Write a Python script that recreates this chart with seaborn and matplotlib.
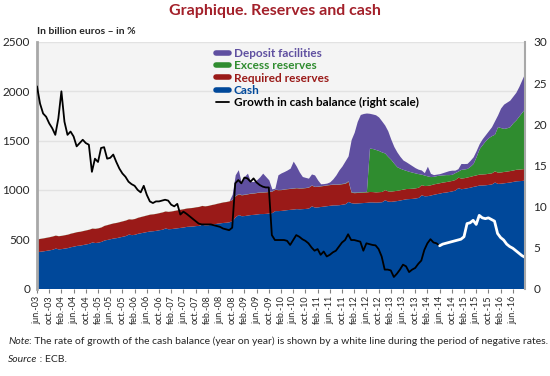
import numpy as np
import pandas as pd
import seaborn as sns
import matplotlib
matplotlib.use('Agg')
import matplotlib.pyplot as plt
from matplotlib.lines import Line2D

# Monthly data, jun-03 .. oct-16 (billion euros / %)
cash = [373, 378, 382, 387, 392, 398, 410,
        402, 405, 410, 415, 424, 430, 437, 440, 446, 452, 458, 472,
        466, 470, 478, 492, 498, 505, 512, 516, 523, 530, 537, 552,
        546, 550, 560, 566, 572, 578, 584, 586, 590, 596, 601, 614,
        606, 608, 612, 616, 620, 624, 630, 632, 634, 638, 640, 652,
        644, 646, 652, 656, 662, 666, 670, 672, 677, 690, 728, 750,
        738, 740, 745, 750, 752, 756, 760, 760, 762, 766, 770, 790,
        790, 792, 796, 800, 803, 806, 810, 808, 810, 812, 816, 838,
        826, 828, 832, 836, 840, 844, 848, 848, 850, 855, 860, 883,
        870, 866, 868, 870, 872, 874, 878, 878, 876, 878, 880, 900,
        886, 884, 888, 892, 898, 904, 910, 912, 914, 918, 924, 950,
        940, 942, 948, 956, 962, 968, 975, 978, 984, 990, 998, 1022,
        1012, 1016, 1022, 1028, 1036, 1042, 1050, 1050, 1052, 1056, 1060, 1080,
        1066, 1068, 1072, 1076, 1080, 1086, 1092, 1094, 1096, 1100]

required = [129, 130, 131, 132, 133, 134, 131,
            133, 134, 135, 136, 137, 138, 139, 140, 141, 142, 143, 140,
            144, 145, 146, 148, 150, 152, 153, 154, 155, 156, 157, 154,
            158, 160, 162, 164, 166, 168, 170, 171, 172, 173, 175, 172,
            176, 178, 180, 182, 184, 185, 186, 187, 188, 190, 192, 190,
            194, 196, 198, 200, 202, 205, 208, 210, 212, 214, 212, 210,
            212, 214, 215, 216, 216, 217, 218, 218, 218, 218, 218, 216,
            212, 211, 212, 212, 212, 212, 212, 211, 210, 211, 212, 210,
            208, 208, 209, 209, 210, 210, 210, 209, 208, 208, 207, 205,
            105, 106, 106, 106, 106, 106, 106, 105, 104, 104, 104, 103,
            104, 104, 104, 104, 104, 104, 104, 103, 103, 103, 103, 103,
            104, 104, 104, 105, 105, 105, 105, 106, 106, 106, 107, 107,
            108, 108, 109, 110, 110, 111, 111, 112, 112, 113, 113, 113,
            114, 114, 115, 115, 116, 116, 117, 117, 118, 118]

excess = [1, 1, 1, 1, 1, 1, 1,
          1, 1, 1, 1, 1, 1, 1, 1, 1, 1, 1, 1,
          1, 1, 1, 1, 1, 1, 1, 1, 1, 1, 1, 1,
          1, 1, 1, 1, 1, 1, 1, 1, 1, 1, 1, 1,
          1, 1, 1, 1, 1, 1, 1, 1, 1, 1, 1, 1,
          1, 1, 1, 1, 1, 1, 1, 1, 1, 2, 3, 3,
          3, 3, 2, 2, 2, 2, 2, 2, 2, 2, 2, 2,
          2, 2, 2, 2, 2, 2, 2, 2, 2, 2, 2, 2,
          2, 2, 2, 2, 2, 2, 2, 2, 3, 3, 4, 5,
          5, 5, 5, 5, 5, 5, 440, 437, 430, 418, 401, 372,
          350, 322, 278, 239, 218, 200, 184, 173, 163, 151, 138, 107,
          106, 96, 83, 77, 78, 77, 72, 71, 65, 62, 70, 61,
          88, 88, 87, 102, 123, 187, 259, 298, 336, 361, 377, 372,
          461, 450, 437, 439, 445, 478, 501, 539, 576, 609]

deposit = [0, 0, 0, 0, 0, 0, 0,
           0, 0, 0, 0, 0, 0, 0, 0, 0, 0, 0, 0,
           0, 0, 0, 0, 0, 0, 0, 0, 0, 0, 0, 0,
           0, 0, 0, 0, 0, 0, 0, 0, 0, 0, 0, 0,
           0, 0, 0, 0, 0, 0, 0, 0, 0, 0, 0, 0,
           0, 0, 0, 0, 0, 0, 0, 0, 0, 50, 211, 242,
           117, 180, 208, 117, 115, 127, 152, 190, 154, 116, 20, 10,
           149, 167, 176, 188, 204, 272, 218, 161, 114, 102, 89, 112,
           116, 64, 19, 17, 17, 26, 52, 93, 142, 177, 223, 252,
           531, 608, 716, 784, 792, 795, 353, 350, 352, 340, 315, 283,
           260, 205, 170, 150, 120, 95, 87, 77, 65, 53, 45, 42,
           25, 98, 33, 17, 15, 15, 23, 30, 40, 42, 25, 25,
           60, 55, 51, 60, 67, 60, 50, 60, 60, 70, 90, 135,
           119, 198, 246, 260, 269, 270, 280, 300, 330, 363]

growth = [24.6, 22.5, 21.3, 20.9, 20.1, 19.5, 18.7,
          20.7, 24.0, 20.3, 18.7, 19.1, 18.5, 17.3, 17.7, 18.1, 17.7, 17.5, 14.2,
          15.8, 15.4, 17.1, 17.2, 15.8, 15.9, 16.3, 15.4, 14.6, 14.0, 13.6, 13.0,
          12.7, 12.5, 12.0, 11.7, 12.5, 11.4, 10.6, 10.4, 10.6, 10.6, 10.7, 10.8,
          10.7, 10.2, 10.0, 10.3, 9.0, 9.35, 9.1, 8.8, 8.5, 8.2, 7.9, 7.8,
          7.8, 7.8, 7.8, 7.7, 7.6, 7.5, 7.3, 7.2, 7.1, 7.4, 12.8, 13.2,
          12.8, 13.5, 13.4, 13.0, 13.4, 12.9, 12.6, 12.4, 12.3, 12.3, 6.5, 5.9,
          5.9, 5.9, 5.9, 5.8, 5.3, 5.9, 6.5, 6.3, 6.0, 5.8, 5.5, 5.0,
          4.6, 4.8, 4.1, 4.5, 3.9, 4.1, 4.4, 4.6, 5.1, 5.6, 5.9, 6.6,
          5.9, 5.9, 5.8, 5.7, 4.6, 5.5, 5.4, 5.3, 5.25, 4.8, 3.9, 2.3,
          2.3, 2.2, 1.4, 1.8, 2.3, 2.9, 2.7, 2.0, 2.3, 2.5, 3.0, 3.4,
          4.7, 5.5, 6.0, 5.6, 5.5, 5.2, 5.4, 5.5, 5.6, 5.7, 5.8, 5.9,
          6.0, 6.3, 7.9, 8.0, 8.3, 7.8, 8.9, 8.6, 8.5, 8.6, 8.4, 8.2,
          6.7, 6.2, 5.9, 5.4, 5.1, 4.9, 4.6, 4.3, 4.0, 3.8]

neg_rate_start = 132  # jun-14: line turns white

months = pd.date_range('2003-06-01', periods=len(cash), freq='MS')
mon_abbr = {2: 'feb.', 6: 'jun.', 10: 'oct.'}
tick_pos = list(range(0, 157, 4))  # jun-03 .. jun-16
tick_labels = [f"{mon_abbr[months[i].month]}-{months[i].strftime('%y')}" for i in tick_pos]

df = pd.DataFrame({'m': np.arange(len(cash)), 'growth': growth})

sns.set_theme(style='white')
plt.rcParams['font.family'] = ['Lato', 'DejaVu Sans']

c_blue = '#00489A'
c_red = '#9A1A18'
c_green = '#2F8C2F'
c_purple = '#5F4FA0'
c_title = '#A3202A'

fig = plt.figure(figsize=(5.5, 3.76), dpi=100)
ax = fig.add_axes([37/550, 1 - 288.5/376, (525 - 37)/550, (288.5 - 42)/376])
ax.set_facecolor('#F4F4F4')

ax.stackplot(df['m'], cash, required, excess, deposit,
             colors=[c_blue, c_red, c_green, c_purple], linewidth=0)
ax.set_xlim(0, len(cash) - 1)
ax.set_ylim(0, 2500)
ax.set_yticks(range(0, 2501, 500))
ax.yaxis.grid(True, color='#E2E2E2', linewidth=1)
ax.set_axisbelow(True)
ax.set_xticks(tick_pos)
ax.set_xticklabels(tick_labels, rotation=90, fontsize=6.5)
ax.tick_params(axis='x', length=3, width=0.8, color='#808080', pad=2, bottom=True)
ax.tick_params(axis='y', length=0, labelsize=8.5, pad=5)
for s in ['top', 'bottom']:
    ax.spines[s].set_visible(False)
ax.spines['left'].set_color('#A8A8A8')
ax.spines['left'].set_linewidth(2)
ax.spines['right'].set_visible(False)

ax2 = ax.twinx()
sns.lineplot(data=df[df['m'] <= neg_rate_start], x='m', y='growth', ax=ax2,
             color='black', linewidth=1.3)
sns.lineplot(data=df[df['m'] >= neg_rate_start], x='m', y='growth', ax=ax2,
             color='white', linewidth=2)
ax2.set_ylim(0, 30)
ax2.set_yticks(range(0, 31, 5))
ax2.set_xlabel('')
ax2.set_ylabel('')
ax.set_xlabel('')
ax2.tick_params(axis='y', length=0, labelsize=8.5, pad=6)
for s in ['top', 'bottom', 'left']:
    ax2.spines[s].set_visible(False)
ax2.spines['right'].set_color('#A8A8A8')
ax2.spines['right'].set_linewidth(1.5)

handles = [Line2D([], [], color=c_purple, linewidth=4),
           Line2D([], [], color=c_green, linewidth=4),
           Line2D([], [], color=c_red, linewidth=4),
           Line2D([], [], color=c_blue, linewidth=4),
           Line2D([], [], color='black', linewidth=1.3)]
labels = ['Deposit facilities', 'Excess reserves', 'Required reserves', 'Cash',
          'Growth in cash balance (right scale)']
leg = ax2.legend(handles, labels, loc='upper left', bbox_to_anchor=(0.345, 1.02),
                 frameon=False, handlelength=1.1, handletextpad=0.4,
                 labelspacing=0.12, prop={'weight': 'bold', 'size': 8.5})
for t, c in zip(leg.get_texts(), [c_purple, c_green, c_red, c_blue, 'black']):
    t.set_color(c)

fig.text(0.5, 1 - 11/376, 'Graphique. Reserves and cash', ha='center', va='center',
         color=c_title, fontsize=11.5, fontweight='bold')
fig.text(37/550, 1 - 31/376, 'In billion euros \u2013 in %', ha='left', va='center',
         fontsize=7.5, fontweight='bold')

# footnote with italic lead words
renderer = fig.canvas.get_renderer()
y_note = 1 - 341/376
t1 = fig.text(8/550, y_note, 'Note', ha='left', va='center', fontsize=7.5, style='italic')
w1 = t1.get_window_extent(renderer).width / fig.bbox.width
fig.text(8/550 + w1, y_note,
         ': The rate of growth of the cash balance (year on year) is shown by a white line during the period of negative rates.',
         ha='left', va='center', fontsize=7.5)
y_src = 1 - 360/376
t2 = fig.text(8/550, y_src, 'Source', ha='left', va='center', fontsize=7.5, style='italic')
w2 = t2.get_window_extent(renderer).width / fig.bbox.width
fig.text(8/550 + w2, y_src, ' : ECB.', ha='left', va='center', fontsize=7.5)

fig.savefig('out.png', dpi=100)
